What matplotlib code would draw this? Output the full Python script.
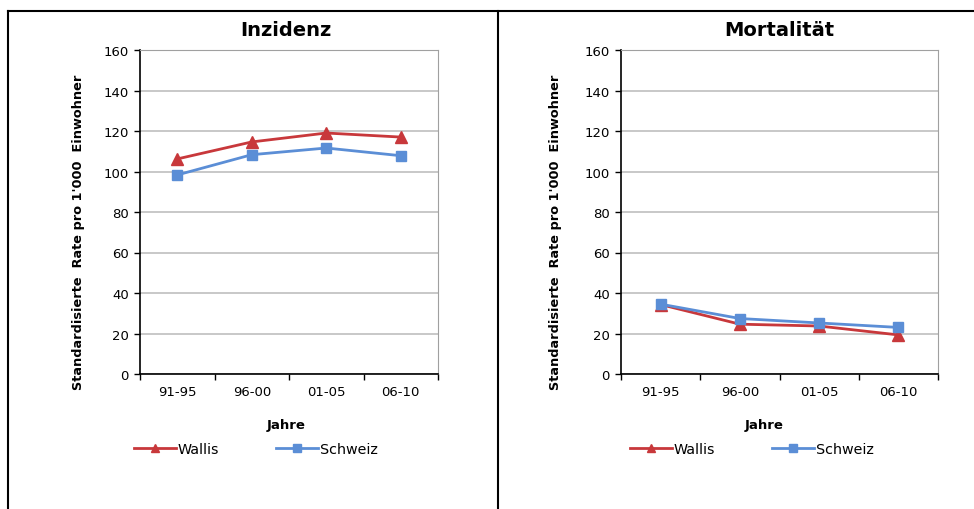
import matplotlib
matplotlib.use("Agg")
import matplotlib.pyplot as plt
from matplotlib.lines import Line2D
import numpy as np

categories = ["91-95", "96-00", "01-05", "06-10"]
inz_wallis = [106.2, 114.6, 119.0, 117.0]
inz_schweiz = [98.3, 108.3, 111.6, 107.8]
mort_wallis = [34.3, 24.6, 23.7, 19.3]
mort_schweiz = [34.5, 27.4, 25.2, 23.0]
titles = ["Inzidenz", "Mortalität"]
series_names = ["Wallis", "Schweiz"]
yticks = [0, 20, 40, 60, 80, 100, 120, 140, 160]

W, H = 974, 510
fig = plt.figure(figsize=(W / 100, H / 100), dpi=100)
plt.rcParams['font.family'] = ['DejaVu Sans']

red = '#C8383B'
blue = '#5B8ED6'

def px(x0, y0, x1, y1):
    return [x0 / W, 1 - y1 / H, (x1 - x0) / W, (y1 - y0) / H]

panels = [
    dict(rect=px(140, 51, 438, 375), data=(inz_wallis, inz_schweiz), title_x=286,
         jahre_x=286, leg_x=256),
    dict(rect=px(621, 51, 938, 375), data=(mort_wallis, mort_schweiz), title_x=779,
         jahre_x=764, leg_x=752),
]

for i, p in enumerate(panels):
    ax = fig.add_axes(p['rect'])
    x = np.arange(len(categories))
    w, s = p['data']
    lw, = ax.plot(x, w, color=red, lw=2.0, marker='^', ms=8, zorder=3, label=series_names[0])
    ls, = ax.plot(x, s, color=blue, lw=2.0, marker='s', ms=7, zorder=4, label=series_names[1])
    ax.set_xlim(-0.5, len(categories) - 0.5)
    ax.set_ylim(0, 160)
    ax.set_yticks(yticks)
    ax.set_yticklabels([str(t) for t in yticks], fontsize=9.5)
    ax.set_xticks(np.arange(-0.5, len(categories), 1.0))
    ax.set_xticklabels([])
    ax.set_xticks(x, minor=True)
    ax.set_xticklabels(categories, minor=True, fontsize=9.5)
    ax.tick_params(axis='x', which='minor', length=0, pad=8)
    ax.tick_params(axis='x', which='major', length=4, width=1, direction='out')
    ax.tick_params(axis='y', length=4, width=1, direction='out', pad=4)
    ax.grid(axis='y', color='#C4C4C4', lw=1.3)
    ax.set_axisbelow(True)
    ax.spines['left'].set_color('black')
    ax.spines['bottom'].set_color('black')
    ax.spines['left'].set_linewidth(1.2)
    ax.spines['bottom'].set_linewidth(1.2)
    ax.spines['top'].set_color('#A0A0A0')
    ax.spines['right'].set_color('#A0A0A0')
    ax.set_ylabel("Standardisierte  Rate pro 1'000  Einwohner", fontsize=9.3,
                  fontweight='bold')
    ax.yaxis.set_label_coords(-55 / 298, 0.441)
    fig.text(p['title_x'] / W, 1 - 30 / H, titles[i], ha='center', va='center',
             fontsize=14, fontweight='bold')
    fig.text(p['jahre_x'] / W, 1 - 425 / H, "Jahre", ha='center', va='center',
             fontsize=9.5, fontweight='bold')
    fig.legend(handles=[lw, ls], loc='center', bbox_to_anchor=(p['leg_x'] / W, 1 - 450 / H),
               ncol=2, frameon=False, fontsize=10.3, handlelength=2.9, columnspacing=4.0,
               handletextpad=0.15, markerscale=0.75)

# panel borders
lc = 'black'
fig.add_artist(Line2D([8 / W, 1], [1 - 12 / H, 1 - 12 / H], color=lc, lw=1.5))
fig.add_artist(Line2D([8 / W, 8 / W], [0, 1 - 12 / H], color=lc, lw=1.5))
fig.add_artist(Line2D([498 / W, 498 / W], [0, 1 - 12 / H], color=lc, lw=1.5))

fig.savefig("out.png", dpi=100)
